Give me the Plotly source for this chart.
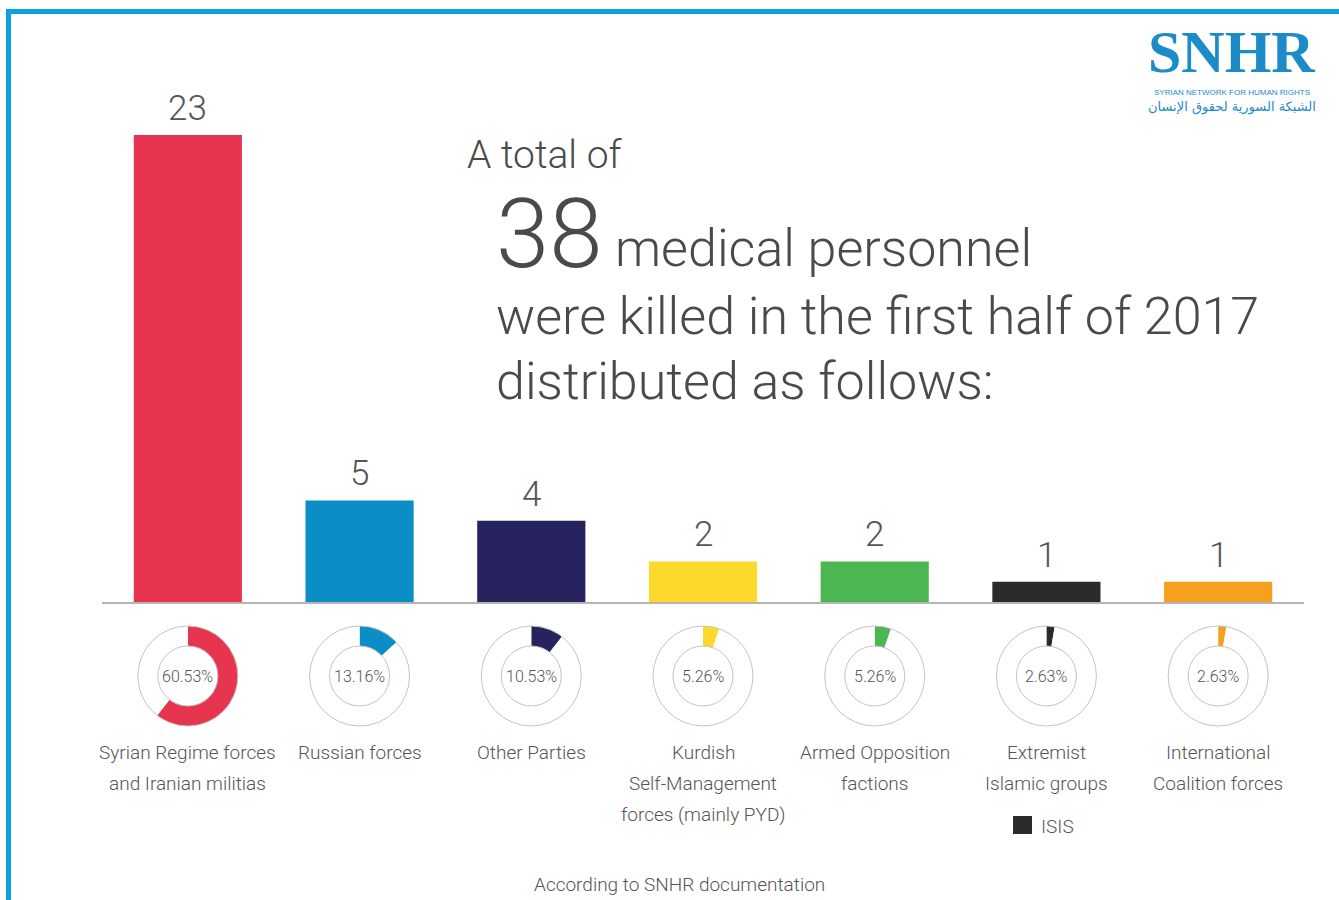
import plotly.graph_objects as go

# ---- data -------------------------------------------------------------
CATEGORIES = [
    "Syrian Regime forces and Iranian militias",
    "Russian forces",
    "Other Parties",
    "Kurdish Self-Management forces (mainly PYD)",
    "Armed Opposition factions",
    "Extremist Islamic groups",
    "International Coalition forces",
]
LABEL_LINES = [
    ["Syrian Regime forces", "and Iranian militias"],
    ["Russian forces"],
    ["Other Parties"],
    ["Kurdish", "Self-Management", "forces (mainly PYD)"],
    ["Armed Opposition", "factions"],
    ["Extremist", "Islamic groups"],
    ["International", "Coalition forces"],
]
KILLED = [23, 5, 4, 2, 2, 1, 1]
COLORS = ["#e8354f", "#0b8dc6", "#27235e", "#fcd92b", "#4cb752", "#2b2b2b", "#f5a11d"]
TOTAL = sum(KILLED)

# ---- page geometry (pixels) -------------------------------------------
W, H = 1339, 900
PLOT_L, PLOT_R = 102, 1304
PLOT_T, PLOT_B = 100, 602
TALLEST_TOP = 135            # pixel row reached by the tallest bar
DONUT_CY, R_OUT, R_IN = 676, 50, 30
STEP = (PLOT_R - PLOT_L) / len(CATEGORIES)

FONT = "Roboto"
TXT = "#555555"
BLUE = "#0ca2e2"
LOGO = "#1b8cc8"


def fx(px):
    return px / W


def fy(py):
    return (H - py) / H


def cx(i):
    return PLOT_L + (i + 0.5) * STEP


y_top = max(KILLED) * (PLOT_B - PLOT_T) / (PLOT_B - TALLEST_TOP)

fig = go.Figure()

fig.add_trace(go.Bar(
    x=CATEGORIES, y=KILLED,
    marker=dict(color=COLORS, line=dict(width=0)),
    width=0.63, hoverinfo="x+y", showlegend=False,
))

annotations = []
shapes = []

# value labels above bars
for cat, v in zip(CATEGORIES, KILLED):
    annotations.append(dict(
        x=cat, y=v, xref="x", yref="y", text=str(v), showarrow=False,
        yanchor="bottom", yshift=4,
        font=dict(family=FONT, size=35, color=TXT, weight=300),
    ))

# donuts with share of the total
for i, (v, c) in enumerate(zip(KILLED, COLORS)):
    x_c = cx(i)
    fig.add_trace(go.Pie(
        values=[v, TOTAL - v],
        marker=dict(colors=[c, "white"], line=dict(width=0)),
        hole=R_IN / R_OUT, sort=False, direction="clockwise", rotation=0,
        textinfo="none", hoverinfo="skip", showlegend=False,
        domain=dict(x=[fx(x_c - R_OUT), fx(x_c + R_OUT)],
                    y=[fy(DONUT_CY + R_OUT), fy(DONUT_CY - R_OUT)]),
    ))
    for r in (R_OUT, R_IN):
        shapes.append(dict(
            type="circle", xref="paper", yref="paper", layer="above",
            x0=fx(x_c - r), x1=fx(x_c + r), y0=fy(DONUT_CY + r), y1=fy(DONUT_CY - r),
            line=dict(color="#c4c4c4", width=1),
        ))
    annotations.append(dict(
        x=fx(x_c), y=fy(DONUT_CY), xref="paper", yref="paper",
        text=f"{v / TOTAL * 100:.2f}%", showarrow=False,
        xanchor="center", yanchor="middle",
        font=dict(family=FONT, size=16, color=TXT, weight=300),
    ))
    # category name under the donut
    for k, line in enumerate(LABEL_LINES[i]):
        annotations.append(dict(
            x=fx(x_c), y=fy(752 + 31 * k), xref="paper", yref="paper",
            text=line, showarrow=False, xanchor="center", yanchor="middle",
            font=dict(family=FONT, size=19, color=TXT, weight=300),
        ))

# ISIS key under the extremist groups column
shapes.append(dict(type="rect", xref="paper", yref="paper",
                   x0=fx(1013), x1=fx(1032), y0=fy(834), y1=fy(816),
                   fillcolor="#2b2b2b", line=dict(width=0)))
annotations.append(dict(x=fx(1039), y=fy(826), xref="paper", yref="paper",
                        text="ISIS", showarrow=False, xanchor="left", yanchor="middle",
                        font=dict(family=FONT, size=19, color=TXT, weight=300)))

# headline block
head = [
    ("A total of", 465, 155, 39),
    ("38", 494, 234, 96),
    ("medical personnel", 613, 249, 52),
    ("were killed in the first half of 2017", 494, 316, 52),
    ("distributed as follows:", 494, 381, 52),
]
for text, px, py, size in head:
    annotations.append(dict(x=fx(px), y=fy(py), xref="paper", yref="paper",
                            text=text, showarrow=False, xanchor="left", yanchor="middle",
                            font=dict(family=FONT, size=size, color="#4a4a4a", weight=300)))

# logo block
annotations += [
    dict(x=fx(1231), y=fy(52), xref="paper", yref="paper", text="<b>SNHR</b>",
         showarrow=False, xanchor="center", yanchor="middle",
         font=dict(family="Liberation Serif", size=60, color=LOGO)),
    dict(x=fx(1232), y=fy(92), xref="paper", yref="paper",
         text="SYRIAN NETWORK FOR HUMAN RIGHTS",
         showarrow=False, xanchor="center", yanchor="middle",
         font=dict(family="Liberation Sans Narrow, Liberation Sans", size=8, color=LOGO)),
    dict(x=fx(1232), y=fy(107), xref="paper", yref="paper",
         text="الشبكة السورية لحقوق الإنسان",
         showarrow=False, xanchor="center", yanchor="middle",
         font=dict(family="DejaVu Sans", size=13, color=LOGO)),
]

# source note
annotations.append(dict(x=fx(680), y=fy(884), xref="paper", yref="paper",
                        text="According to SNHR documentation", showarrow=False,
                        xanchor="center", yanchor="middle",
                        font=dict(family=FONT, size=19, color=TXT, weight=300)))

# blue frame along the top and left edges
shapes += [
    dict(type="rect", xref="paper", yref="paper", x0=fx(6), x1=1, y0=fy(14), y1=fy(9),
         fillcolor=BLUE, line=dict(width=0)),
    dict(type="rect", xref="paper", yref="paper", x0=fx(6), x1=fx(11), y0=0, y1=fy(9),
         fillcolor=BLUE, line=dict(width=0)),
]

fig.update_layout(
    width=W, height=H,
    margin=dict(l=0, r=0, t=0, b=0),
    paper_bgcolor="white", plot_bgcolor="white",
    bargap=0.37,
    xaxis=dict(domain=[fx(PLOT_L), fx(PLOT_R)], range=[-0.5, len(CATEGORIES) - 0.5],
               showticklabels=False, ticks="", showgrid=False, zeroline=False,
               showline=True, linecolor="#b5b5b5", linewidth=1.5, fixedrange=True),
    yaxis=dict(domain=[fy(PLOT_B), fy(PLOT_T)], range=[0, y_top],
               visible=False, fixedrange=True),
    annotations=annotations,
    shapes=shapes,
)

fig.write_html("out.html")
